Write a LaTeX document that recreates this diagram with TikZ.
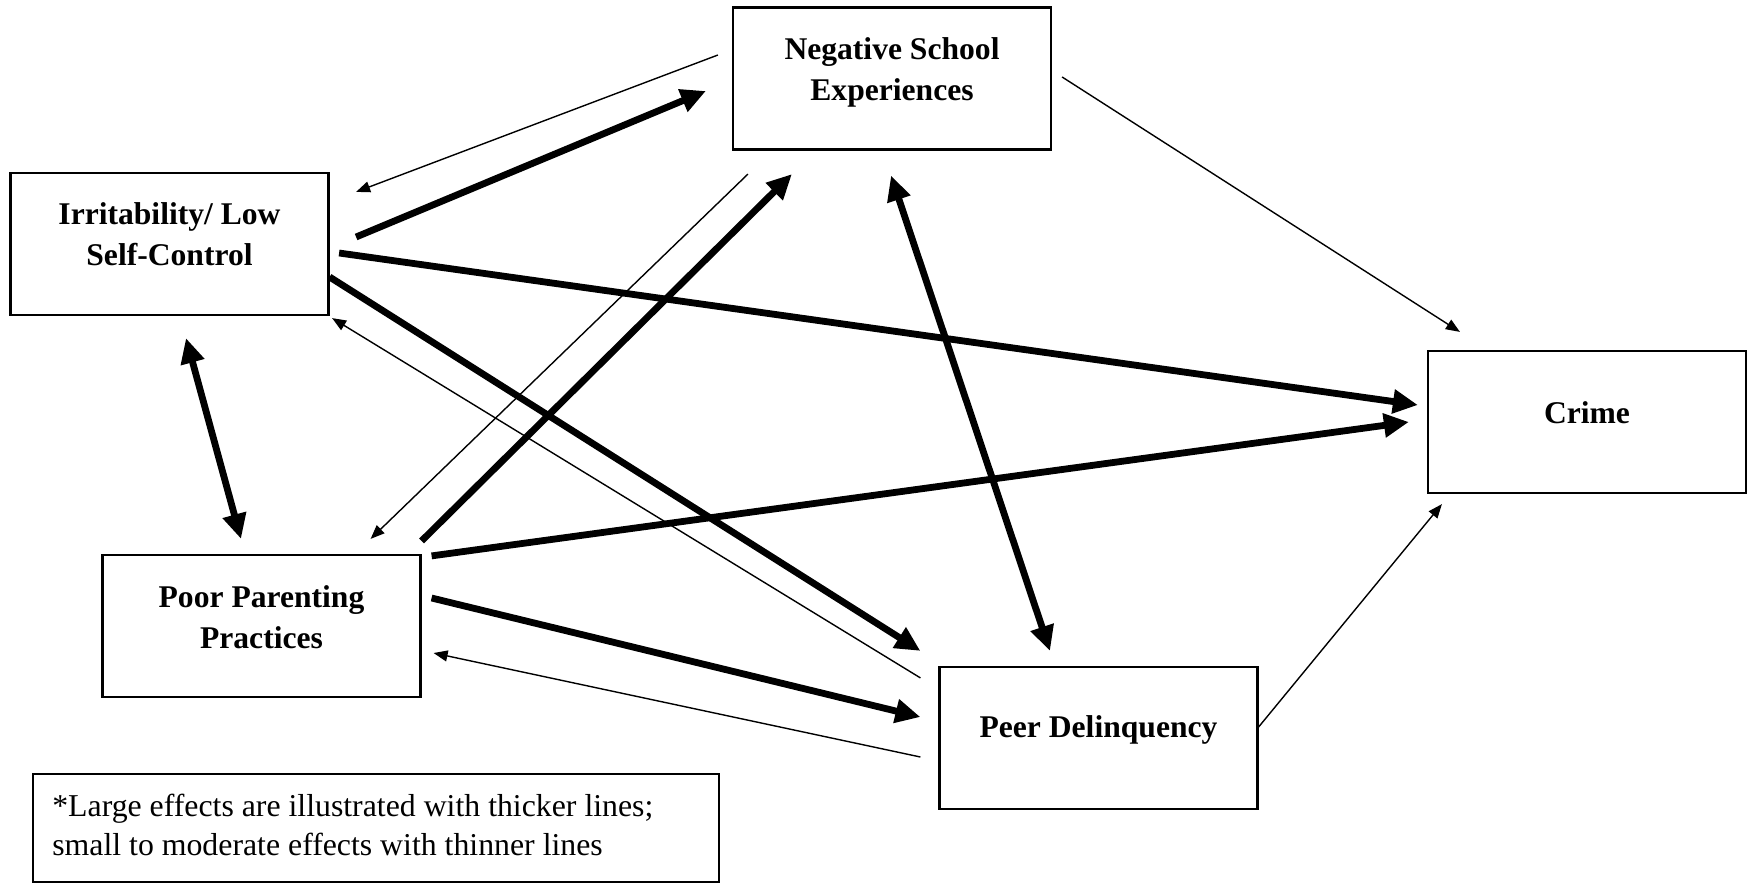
\documentclass[tikz,border=0pt]{standalone}
\usepackage{fontspec}
\setmainfont{Liberation Serif}
\usetikzlibrary{calc,arrows.meta}

\begin{document}
\begin{tikzpicture}[
    x=0.5pt, y=-0.5pt,              % one unit = one pixel, y runs down
    box/.style={draw, line width=1.1pt, inner sep=0pt,
                minimum width=159pt, minimum height=71pt},
    lbl/.style={font=\fontsize{15.8}{20.5}\selectfont\bfseries,
                align=center, anchor=north, inner sep=0pt},
    % ~~~ effect sizes ~~~~~~~
    bigeff/.style={line width=3.4pt, -{Triangle[length=12.5pt,width=11.5pt]}},
    smalleff/.style={line width=0.7pt, -{Triangle[length=7pt,width=5.5pt]}},
    mutual/.style={line width=3.4pt,
                {Triangle[length=12.5pt,width=11.5pt]}-{Triangle[length=12.5pt,width=11.5pt]}},
 ]
    \useasboundingbox (0,0) rectangle (1748,883);
    % ~~~ the five boxes ~~~~~~~~~~~~~~
    \node[box] (neg)   at (892,78.5)  {};
    \node[box] (irr)   at (169.5,244) {};
    \node[box] (crime) at (1587,422)  {};
    \node[box] (poor)  at (261.5,626) {};
    \node[box] (peer)  at (1098.5,738){};
    \node[lbl] (neg-t)   at ([yshift=-15.5pt]neg.north)   {Negative School\\Experiences};
    \node[lbl] (irr-t)   at ([yshift=-15pt]irr.north)     {Irritability/ Low\\Self-Control};
    \node[lbl] (crime-t) at ([yshift=-25.5pt]crime.north) {Crime};
    \node[lbl] (poor-t)  at ([yshift=-15.5pt]poor.north)  {Poor Parenting\\Practices};
    \node[lbl] (peer-t)  at ([yshift=-24.5pt]peer.north)  {Peer Delinquency};
    % ~~~ note ~~~~~~~~~~~~~~~~~~~~~~~~
    \node[draw, line width=1.1pt, minimum width=343pt, minimum height=54pt,
          inner sep=0pt] (note) at (376,828) {};
    \node[anchor=north west, align=left, inner sep=0pt,
          font=\fontsize{15.9}{19.5}\selectfont] (note-t)
          at ([xshift=10pt,yshift=-10.5pt]note.north west)
          {*Large effects are illustrated with thicker lines;\\small to moderate effects with thinner lines};
    % ~~~ paths ~~~~~~~~~~~~~~~~~~~~~~~
    \draw[smalleff] ($(neg.west)+(-14,-23.5)$) -- ($(irr.north east)+(26.5,20)$);
    \draw[bigeff]   ($(irr.east)+(26.5,-7)$)   -- ($(neg.west)+(-26,12.5)$);
    \draw[bigeff]   ($(irr.east)+(9.5,9)$)     -- ($(crime.west)+(-9,-17)$);
    \draw[bigeff]   ($(irr.east)+(0,33)$)      -- ($(peer.north west)+(-18,-15)$);
    \draw[smalleff] ($(peer.north west)+(-18,12)$) -- ($(irr.south east)+(2.5,2)$);
    \draw[mutual]   ($(irr.south)+(16.5,22)$)  -- ($(poor.north)+(-20.5,-15)$);
    \draw[smalleff] ($(neg.south west)+(16,23.5)$) -- ($(poor.north east)+(-51,-15)$);
    \draw[bigeff]   ($(poor.north east)+(0,-13)$)  -- ($(neg.south west)+(60,23.5)$);
    \draw[bigeff]   ($(poor.north east)+(10,2)$)   -- ($(crime.west)+(-18,0)$);
    \draw[bigeff]   ($(poor.east)+(10,-28)$)   -- ($(peer.west)+(-18,-21)$);
    \draw[smalleff] ($(peer.west)+(-18,19)$)   -- ($(poor.east)+(12,27)$);
    \draw[mutual]   ($(neg.south)+(-1,25)$)    -- ($(peer.north)+(-48.5,-15)$);
    \draw[smalleff] ($(neg.east)+(10,-1.5)$)   -- ($(crime.north west)+(33,-18)$);
    \draw[smalleff] ($(peer.east)+(0,-11)$)    -- ($(crime.south west)+(15,10)$);
\end{tikzpicture}
\end{document}
